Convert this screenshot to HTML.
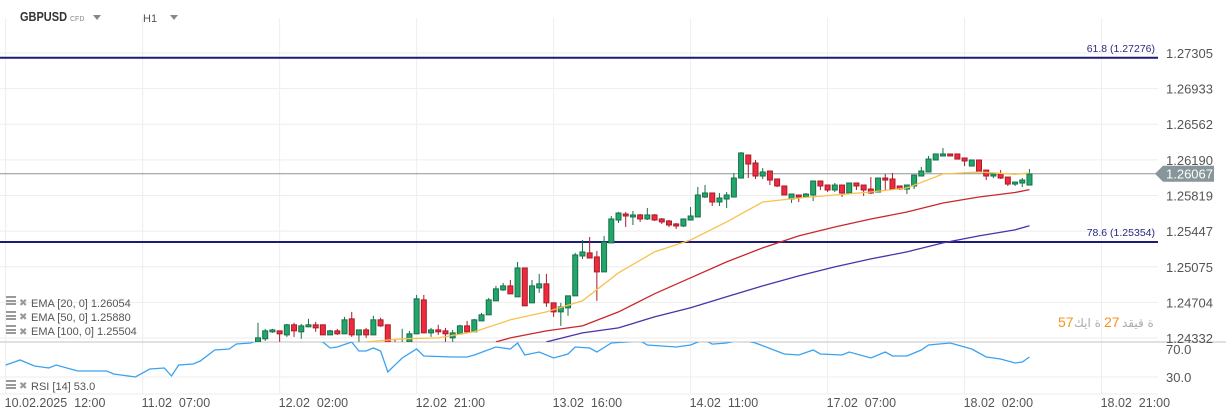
<!DOCTYPE html>
<html><head><meta charset="utf-8">
<style>
html,body{margin:0;padding:0;background:#fff;}
body{width:1226px;height:419px;overflow:hidden;position:relative;font-family:"Liberation Sans",sans-serif;}
svg{position:absolute;left:0;top:0;}
</style></head>
<body>
<svg id="chart" width="1226" height="419" xmlns="http://www.w3.org/2000/svg">
  <defs>
    <clipPath id="mainClip"><rect x="0" y="0" width="1158" height="342"/></clipPath>
    <clipPath id="rsiClip"><rect x="0" y="342" width="1158" height="52"/></clipPath>
  </defs>
  <g id="grid"></g>
  <g id="fib"></g>
  <g id="candles" clip-path="url(#mainClip)"></g>
  <g id="emas" clip-path="url(#mainClip)"></g>
  <g id="rsi" clip-path="url(#rsiClip)"></g>
  <g id="axes"></g>
  <g>
    <text x="20" y="21" font-size="12.5" font-weight="bold" fill="#333" textLength="47" lengthAdjust="spacingAndGlyphs">GBPUSD</text>
    <text x="70" y="21" font-size="7" fill="#888">CFD</text>
    <path d="M93 15 L101 15 L97 20 Z" fill="#888"/>
    <text x="143" y="22" font-size="11" fill="#555">H1</text>
    <path d="M170 15 L178 15 L174 20 Z" fill="#888"/>
  </g>
  <g font-size="11" fill="#555">
    <g><rect x="6" y="296" width="10" height="2" fill="#999"/><rect x="6" y="300" width="10" height="2" fill="#999"/><rect x="6" y="303" width="10" height="2" fill="#999"/><text x="19" y="306" font-size="10" fill="#999">✖</text><text x="31" y="307">EMA [20, 0] 1.26054</text></g>
    <g><rect x="6" y="311" width="10" height="2" fill="#999"/><rect x="6" y="315" width="10" height="2" fill="#999"/><rect x="6" y="318" width="10" height="2" fill="#999"/><text x="19" y="320" font-size="10" fill="#999">✖</text><text x="31" y="321">EMA [50, 0] 1.25880</text></g>
    <g><rect x="6" y="325" width="10" height="2" fill="#999"/><rect x="6" y="329" width="10" height="2" fill="#999"/><rect x="6" y="332" width="10" height="2" fill="#999"/><text x="19" y="335" font-size="10" fill="#999">✖</text><text x="31" y="335">EMA [100, 0] 1.25504</text></g>
    <g><rect x="6" y="380" width="10" height="2" fill="#999"/><rect x="6" y="384" width="10" height="2" fill="#999"/><rect x="6" y="387" width="10" height="2" fill="#999"/><text x="19" y="389" font-size="10" fill="#999">✖</text><text x="31" y="390">RSI [14] 53.0</text></g>
  </g>
  <g font-size="14">
    <text x="1058" y="327" fill="#f7931e">57</text>
    <text x="1074" y="327" fill="#aaa" font-family="'DejaVu Sans',sans-serif" font-size="12">ة ايك</text>
    <text x="1104" y="327" fill="#f7931e">27</text>
    <text x="1122" y="327" fill="#aaa" font-family="'DejaVu Sans',sans-serif" font-size="12">ة قيقد</text>
  </g>
</svg>
<script>
const openP=[1.24292,1.24324,1.24397,1.24407,1.24365,1.24470,1.24397,1.24449,1.24470,1.24470,1.24365,1.24407,1.24376,1.24532,1.24365,1.24417,1.24365,1.24522,1.24470,1.24261,1.24209,1.24292,1.24376,1.24730,1.24386,1.24417,1.24407,1.24334,1.24376,1.24459,1.24397,1.24511,1.24574,1.24720,1.24834,1.24876,1.24762,1.25063,1.24699,1.24855,1.24897,1.24699,1.24605,1.24647,1.24772,1.25188,1.25220,1.25178,1.25022,1.25324,1.25563,1.25626,1.25595,1.25616,1.25574,1.25616,1.25574,1.25553,1.25522,1.25501,1.25563,1.25595,1.25803,1.25845,1.25751,1.25782,1.25803,1.26001,1.26241,1.26158,1.26022,1.26074,1.25991,1.25918,1.25782,1.25824,1.25803,1.25824,1.25970,1.25928,1.25876,1.25928,1.25845,1.25949,1.25928,1.25886,1.25855,1.26001,1.25991,1.25918,1.25886,1.25918,1.26022,1.26064,1.26189,1.26231,1.26252,1.26252,1.26210,1.26126,1.26189,1.26084,1.26022,1.26043,1.26011,1.25938,1.25949,1.25928];
const highP=[1.24491,1.24428,1.24428,1.24407,1.24480,1.24491,1.24480,1.24532,1.24501,1.24470,1.24417,1.24428,1.24553,1.24605,1.24417,1.24438,1.24564,1.24543,1.24470,1.24313,1.24428,1.24407,1.24782,1.24782,1.24438,1.24470,1.24438,1.24417,1.24470,1.24511,1.24532,1.24595,1.24751,1.24876,1.24907,1.24938,1.25126,1.25063,1.24938,1.25001,1.25001,1.24699,1.24699,1.24772,1.25220,1.25355,1.25386,1.25240,1.25397,1.25605,1.25647,1.25647,1.25657,1.25626,1.25688,1.25626,1.25584,1.25563,1.25532,1.25574,1.25699,1.25907,1.25928,1.25845,1.25845,1.25855,1.26053,1.26272,1.26241,1.26189,1.26105,1.26074,1.25991,1.25918,1.25834,1.25824,1.25845,1.25970,1.25970,1.25928,1.25949,1.25928,1.25949,1.25949,1.25928,1.26011,1.26001,1.26043,1.26053,1.25918,1.25928,1.26032,1.26116,1.26231,1.26252,1.26314,1.26252,1.26252,1.26210,1.26189,1.26189,1.26084,1.26043,1.26084,1.26011,1.25959,1.26001,1.26095];
const lowP=[1.24292,1.24303,1.24386,1.24292,1.24344,1.24344,1.24324,1.24449,1.24397,1.24365,1.24365,1.24365,1.24376,1.24344,1.24292,1.24334,1.24365,1.24449,1.24230,1.24157,1.24157,1.24292,1.24376,1.24386,1.24344,1.24365,1.24292,1.24292,1.24376,1.24386,1.24397,1.24511,1.24574,1.24720,1.24824,1.24793,1.24762,1.24668,1.24699,1.24803,1.24657,1.24553,1.24459,1.24564,1.24772,1.25157,1.25167,1.24720,1.25022,1.25324,1.25532,1.25490,1.25511,1.25543,1.25563,1.25553,1.25522,1.25490,1.25470,1.25490,1.25563,1.25595,1.25793,1.25709,1.25709,1.25688,1.25803,1.26001,1.26001,1.25991,1.25991,1.25928,1.25907,1.25824,1.25741,1.25751,1.25803,1.25761,1.25876,1.25855,1.25855,1.25803,1.25834,1.25876,1.25813,1.25834,1.25855,1.25876,1.25876,1.25876,1.25834,1.25886,1.26022,1.26064,1.26189,1.26231,1.26231,1.26199,1.26126,1.26126,1.26074,1.25980,1.26001,1.25991,1.25918,1.25918,1.25907,1.25928];
const closeP=[1.24334,1.24407,1.24417,1.24376,1.24470,1.24407,1.24459,1.24470,1.24438,1.24365,1.24407,1.24376,1.24522,1.24365,1.24417,1.24365,1.24522,1.24459,1.24261,1.24209,1.24261,1.24376,1.24741,1.24386,1.24417,1.24397,1.24376,1.24386,1.24459,1.24397,1.24522,1.24574,1.24730,1.24845,1.24876,1.24793,1.25063,1.24668,1.24876,1.24897,1.24699,1.24605,1.24657,1.24772,1.25199,1.25230,1.25167,1.25022,1.25334,1.25574,1.25636,1.25605,1.25616,1.25574,1.25616,1.25563,1.25543,1.25511,1.25501,1.25574,1.25605,1.25824,1.25845,1.25751,1.25793,1.25824,1.26001,1.26262,1.26147,1.26022,1.26064,1.25980,1.25918,1.25824,1.25834,1.25803,1.25834,1.25970,1.25918,1.25876,1.25928,1.25845,1.25949,1.25918,1.25876,1.25845,1.26001,1.25980,1.25886,1.25886,1.25928,1.26032,1.26074,1.26199,1.26252,1.26252,1.26231,1.26199,1.26179,1.26189,1.26074,1.26022,1.26043,1.26001,1.25938,1.25959,1.25980,1.26043];

const ema20Idx=[15,20,25,30,35,40,45,50,55,60,65,70,75,80,85,90,95,100,105,107];
const ema20Val=[1.24292,1.24324,1.24334,1.24397,1.24522,1.24605,1.24720,1.25012,1.25230,1.25355,1.25543,1.25751,1.25793,1.25824,1.25855,1.25897,1.26043,1.26064,1.26040,1.26054];
const ema50Idx=[33,35,40,45,50,55,60,65,70,75,80,85,90,95,100,105,107];
const ema50Val=[1.24292,1.24334,1.24407,1.24459,1.24605,1.24793,1.24960,1.25126,1.25272,1.25397,1.25490,1.25574,1.25647,1.25741,1.25803,1.25850,1.25880];
const ema100Idx=[40,45,50,55,60,65,70,75,80,85,90,95,100,105,107];
const ema100Val=[1.24292,1.24386,1.24438,1.24553,1.24647,1.24762,1.24876,1.24980,1.25074,1.25157,1.25230,1.25324,1.25397,1.25460,1.25504];

const rsiIdx=[-35,-33,-31,-29,-28,-25,-21,-20,-17,-15,-13,-12,-11,-9,-8,-6,-4,-3,-1,0,4,8,9,10,11,13,14,15,16,17,18,20,22,23,27,29,30,33,35,36,37,39,41,43,44,46,47,49,51,53,54,58,60,61,62,63,65,67,69,73,75,77,78,81,82,85,87,88,90,92,93,96,99,101,103,105,106,107];
const rsiVal=[47.1,54.3,45.7,42.9,47.1,38.6,38.6,34.3,30.0,41.4,42.9,31.4,47.1,48.6,52.9,68.6,70.0,77.1,78.6,83,84,83,80,71.4,72.9,80,67.1,67.1,71.4,67.1,37.1,57.1,70.0,60.0,58.6,58.6,61.4,72.9,70.0,78.6,61.4,65.7,57.1,62.9,72.9,71.4,65.7,78.6,80,82,75.7,72.9,75.7,80,83,77,78.6,84,78.6,62.9,61.4,68.6,62.9,61.4,65.7,57.1,65.7,60.0,60.0,68.6,75.7,78.6,70.0,58.6,55.7,50.0,51.4,58.6];

const priceTicks=[1.27305,1.26933,1.26562,1.26190,1.25819,1.25447,1.25075,1.24704,1.24332];
const rsiTicks=[70,30];
const rsiTickLabels=["70.0","30.0"];
const dateIdx=[-35,-16,3,22,41,60,79,98,117];
const dateLabels=["10.02.2025  12:00","11.02  07:00","12.02  02:00","12.02  21:00","13.02  16:00","14.02  11:00","17.02  07:00","18.02  02:00","18.02  21:00"];
const fibLevels=[1.27276,1.25354];
const fibLabels=["61.8 (1.27276)","78.6 (1.25354)"];
const lastPrice=1.26067;

const NS="http://www.w3.org/2000/svg";
function xS(i){return 258+i*7.21;}
function yS(p){return 53+(1.27305-p)/0.0001043;}
function yR(v){return 349+(70-v)*0.7;}
function mk(tag,attrs,parent){const e=document.createElementNS(NS,tag);for(const k in attrs)e.setAttribute(k,attrs[k]);parent.appendChild(e);return e;}

const grid=document.getElementById('grid');
priceTicks.forEach(t=>{const l=mk('line',{x1:0,x2:1158,y1:yS(t),y2:yS(t),stroke:'#eeeeee','stroke-width':1},grid);

});
dateIdx.forEach(d=>{const l=mk('line',{x1:xS(d),x2:xS(d),y1:18,y2:394,stroke:'#eeeeee','stroke-width':1},grid);

});
const sepL=mk('line',{x1:0,x2:1226,y1:342,y2:342,stroke:'#d6d6d6','stroke-width':1.5},grid);


const rg=mk('line',{x1:0,x2:1158,y1:yR(30),y2:yR(30),stroke:'#eeeeee','stroke-width':1},grid);


const bl=mk('line',{x1:0,x2:1158,y1:394,y2:394,stroke:'#eeeeee','stroke-width':1},grid);



const fib=document.getElementById('fib');
fibLevels.forEach((f,k)=>{const l=mk('line',{x1:0,x2:1158,y1:yS(f)+2,y2:yS(f)+2,stroke:'#1c1c78','stroke-width':2},fib);


const t=mk('text',{x:1155,y:yS(f)-4,'text-anchor':'end','font-size':10.5,fill:'#2a2a80'},fib);t.textContent=fibLabels[k];

});
const pl=mk('line',{x1:0,x2:1158,y1:yS(lastPrice)+2,y2:yS(lastPrice)+2,stroke:'#8a9699','stroke-width':1},fib);



const cg=document.getElementById('candles');
openP.forEach((o,i)=>{const c=closeP[i],h=highP[i],lo=lowP[i];const up=c>=o;
const x=xS(i);const fill=up?'#22a66a':'#ee2a3e',st=up?'#17704a':'#a81c2a';
const w=mk('line',{x1:x,x2:x,y1:yS(h),y2:yS(lo),stroke:st,'stroke-width':1},cg);


const top=yS(Math.max(o,c)),bh=Math.max(1,Math.abs(yS(o)-yS(c)));
const b=mk('rect',{x:x-2.5,y:top,width:5,height:bh,fill:fill,stroke:st,'stroke-width':1},cg);

});

const eg=document.getElementById('emas');
function line(idx,val,col,name){const d=idx.map((i,k)=>(k?'L':'M')+xS(i).toFixed(1)+' '+yS(val[k]).toFixed(1)).join(' ');
const p=mk('path',{d:d,fill:'none',stroke:col,'stroke-width':1.3},eg);

}
line(ema100Idx,ema100Val,'#4b32a8','ema-100-line');
line(ema50Idx,ema50Val,'#c8282c','ema-50-line');
line(ema20Idx,ema20Val,'#f8c24c','ema-20-line');

const rg2=document.getElementById('rsi');
const rd=rsiIdx.map((i,k)=>(k?'L':'M')+xS(i).toFixed(1)+' '+yR(rsiVal[k]).toFixed(1)).join(' ');
const rp=mk('path',{d:rd,fill:'none',stroke:'#3aa2f0','stroke-width':1.3},rg2);



const ax=document.getElementById('axes');
priceTicks.forEach(t=>{const e=mk('text',{x:1166,y:yS(t)+5,'font-size':13,fill:'#555'},ax);e.textContent=t.toFixed(5);

});
rsiTicks.forEach((t,k)=>{const e=mk('text',{x:1166,y:yR(t)+5,'font-size':13,fill:'#555'},ax);e.textContent=rsiTickLabels[k];

});
dateIdx.forEach((d,k)=>{const e=mk('text',{x:xS(d)-1,y:407,'font-size':12.5,fill:'#555','xml:space':'preserve'},ax);e.style.whiteSpace='pre';e.textContent=dateLabels[k];

});
const ly=yS(lastPrice)+2;
const tag=mk('path',{d:`M1155 ${ly} L1163 ${ly-8} L1214 ${ly-8} L1214 ${ly+8} L1163 ${ly+8} Z`,fill:'#87969a'},ax);


const tt=mk('text',{x:1166,y:ly+5,'font-size':13,fill:'#fff'},ax);tt.textContent=lastPrice.toFixed(5);


</script>
</body></html>
